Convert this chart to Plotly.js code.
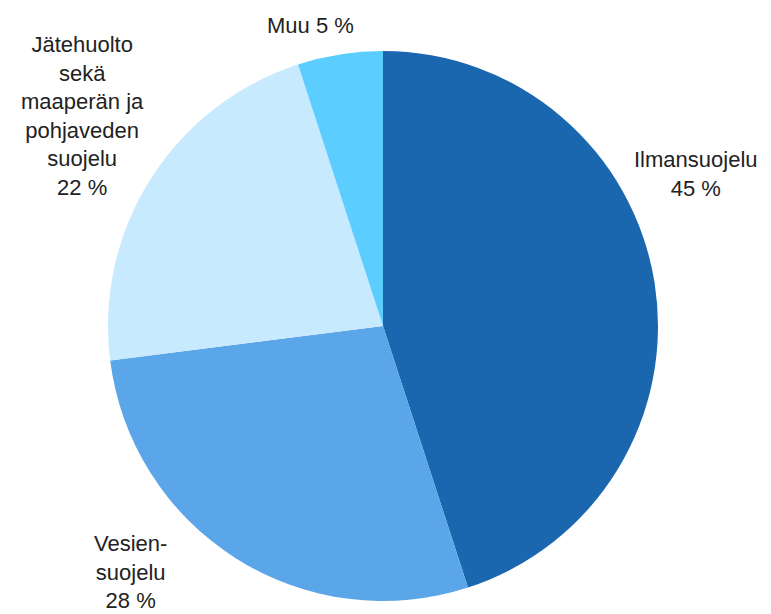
<!DOCTYPE html>
<html>
<head>
<meta charset="utf-8">
<script src="https://cdn.plot.ly/plotly-3.0.1.min.js"></script>
<style>html,body{margin:0;padding:0;background:#fff;}#chart{width:771px;height:614px;}</style>
</head>
<body>
<div id="chart"></div>
<script>
// Data
const categories = ["Ilmansuojelu", "Vesiensuojelu", "Jätehuolto sekä maaperän ja pohjaveden suojelu", "Muu"];
const shares = [45, 28, 22, 5];
const labelText = ["Ilmansuojelu", "Vesien-<br>suojelu", "Jätehuolto<br>sekä<br>maaperän ja<br>pohjaveden<br>suojelu", "Muu"];

// Styles / layout
const sliceColors = ["#1A67B0", "#5AA6E8", "#C8EAFF", "#5BCDFF"];
const W = 771, H = 614;
const labelPos = [[696, 174], [130, 572], [82, 116], [310, 25]];
const sep = ["<br>", "<br>", "<br>", " "];

const annotations = categories.map((c, i) => ({
  xref: "paper", yref: "paper",
  x: labelPos[i][0] / W, y: 1 - labelPos[i][1] / H,
  xanchor: "center", yanchor: "middle",
  text: labelText[i] + sep[i] + shares[i] + " %",
  showarrow: false,
  align: "center",
  font: {family: "Liberation Sans, Arial, sans-serif", size: 22, color: "#222222"}
}));

const cx = 383, cy = 326, r = 275;
const trace = {
  type: "pie",
  labels: categories,
  values: shares,
  sort: false,
  direction: "clockwise",
  rotation: 0,
  textinfo: "none",
  hoverinfo: "label+percent",
  marker: {colors: sliceColors, line: {width: 0}},
  domain: {x: [(cx - r) / W, (cx + r) / W], y: [1 - (cy + r) / H, 1 - (cy - r) / H]},
  showlegend: false
};

Plotly.newPlot("chart", [trace], {
  width: W, height: H,
  margin: {l: 0, r: 0, t: 0, b: 0},
  paper_bgcolor: "#ffffff",
  showlegend: false,
  annotations: annotations
}, {displayModeBar: false, staticPlot: true});
</script>
</body>
</html>
